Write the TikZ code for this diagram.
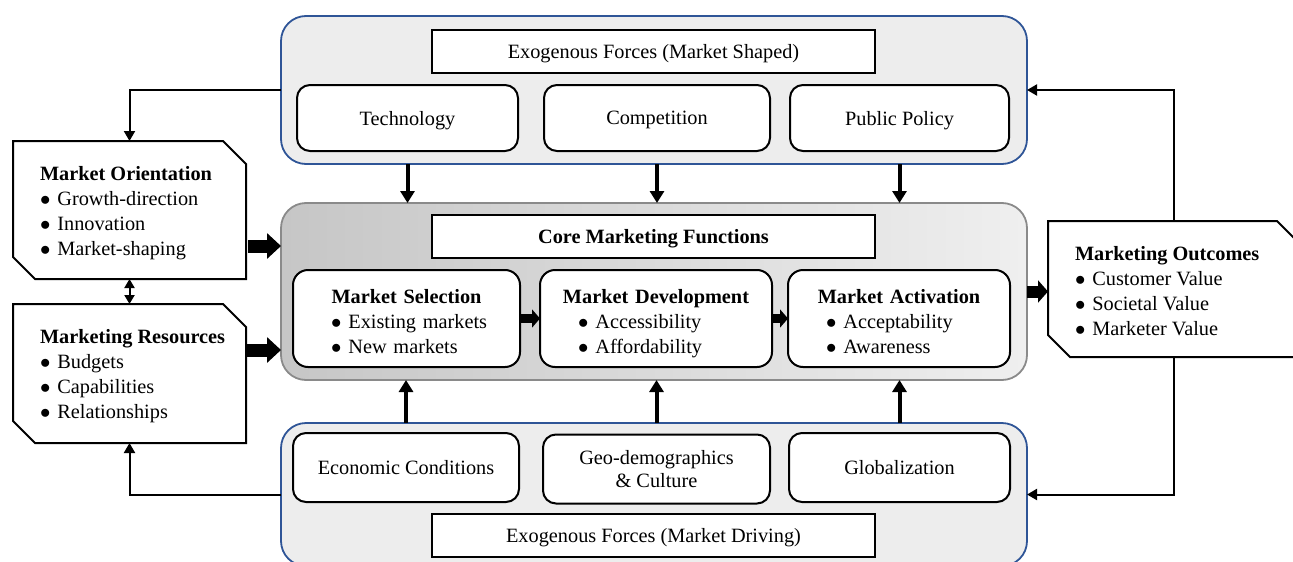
\documentclass[tikz,border=0pt]{standalone}
\usepackage{fontspec}
\setmainfont{Liberation Serif}
\usetikzlibrary{arrows.meta,calc}
\definecolor{bandfill}{HTML}{EDEDED}
\definecolor{bandline}{HTML}{2F5597}
\definecolor{coreline}{HTML}{8A8A8A}
\definecolor{coredark}{HTML}{C6C6C6}
\definecolor{corelight}{HTML}{EFEFEF}
% one bulleted line, never broken
\newcommand\bl[1]{\mbox{$\bullet$\hspace{7pt}#1}}
% heading line, centred over the box even when wider than the text column
\newcommand\ctitle[1]{\noindent\makebox[\hsize][c]{\bfseries #1}}
\newcommand\ltitle[1]{\mbox{\bfseries #1}}

\begin{document}
\begin{tikzpicture}[x=1pt,y=-1pt,
  every node/.style={font=\fontsize{20.3}{25}\selectfont, inner sep=0pt, outer sep=0pt},
  band/.style={draw=bandline, line width=1.8pt, fill=bandfill, rounded corners=25pt},
  corebox/.style={draw=coreline, line width=1.8pt, rounded corners=25pt,
    left color=coredark, right color=corelight},
  titlebox/.style={draw, line width=1.8pt, fill=white, minimum width=443pt, minimum height=43pt, text depth=0pt},
  factor/.style={draw, line width=2pt, fill=white, rounded corners=13pt, align=center, text depth=0pt},
  func/.style={draw, line width=2pt, fill=white, rounded corners=15pt, minimum height=97pt},
  functext/.style={align=left},
  sidetext/.style={align=left, anchor=west},
  sideline/.style={draw, line width=2pt, line join=miter},
  conn/.style={line width=2pt, -{Triangle[length=10pt,width=11pt]}},
  twoway/.style={line width=2pt, {Triangle[length=9pt,width=10pt]}-{Triangle[length=9pt,width=10pt]}},
  vertarrow/.style={line width=4pt, -{Triangle[length=12pt,width=14pt]}},
  bigblock/.style={line width=13pt, -{Triangle[length=14pt,width=25pt]}},
  outblock/.style={line width=12pt, -{Triangle[length=10pt,width=22pt]}},
  smallblock/.style={line width=9pt, -{Triangle[length=8pt,width=18pt]}}
]
\useasboundingbox (0,0) rectangle (1293,562);

% ---- market-shaped forces (top band)
\node[band, minimum width=746pt, minimum height=148pt] (top) at (654,90) {};
\node[titlebox] (toptitle) at (653.5,51.5) {Exogenous Forces (Market Shaped)};
\node[factor, minimum width=221pt, minimum height=66pt] (tech) at (407.5,118) {Technology};
\node[factor, minimum width=226pt, minimum height=66pt] (comp) at (657,118) {Competition};
\node[factor, minimum width=219pt, minimum height=66pt] (policy) at (899.5,118) {Public Policy};

% ---- core marketing functions
\node[corebox, minimum width=746pt, minimum height=177pt] (core) at (654,291.5) {};
\node[titlebox] (coretitle) at (653.5,236.5) {\bfseries Core Marketing Functions};
\node[func, minimum width=227pt] (sel) at (406.5,318.5) {};
\node[func, minimum width=232pt] (dev) at (656,318.5) {};
\node[func, minimum width=222pt] (act) at (899,318.5) {};
\node[functext, text width=151pt] (sel-t) at ($(sel.center)+(0,3)$)
  {\ctitle{Market Selection}\\\bl{Existing markets}\\\bl{New markets}};
\node[functext, text width=156pt] (dev-t) at ($(dev.center)+(0,5)$)
  {\ctitle{Market Development}\\\bl{Accessibility}\\\bl{Affordability}};
\node[functext, text width=146pt] (act-t) at ($(act.center)+(0,3)$)
  {\ctitle{Market Activation}\\\bl{Acceptability}\\\bl{Awareness}};

% ---- market-driving forces (bottom band)
\node[band, minimum width=746pt, minimum height=143pt] (bot) at (654,494.5) {};
\node[factor, minimum width=226pt, minimum height=69pt] (econ) at (406,467.5) {Economic Conditions};
\node[factor, minimum width=227pt, minimum height=69pt, font=\fontsize{20.3}{23.5}\selectfont] (geo) at (656.5,469) {Geo-demographics\\\& Culture};
\node[factor, minimum width=221pt, minimum height=69pt] (glob) at (899.5,467.5) {Globalization};
\node[titlebox] (bottitle) at (653.5,535.5) {Exogenous Forces (Market Driving)};

% ---- side boxes: frame nodes, then their text
\node[minimum width=233pt, minimum height=138pt] (mo) at (129.5,210) {};
\node[minimum width=233pt, minimum height=139pt] (mr) at (129.5,373.5) {};
\node[minimum width=252pt, minimum height=136pt] (outc) at (1174,289) {};
\node[sidetext] (mo-t) at ($(mo.west)+(27,3)$)
  {\ltitle{Market Orientation}\\\bl{Growth-direction}\\\bl{Innovation}\\\bl{Market-shaping}};
\node[sidetext] (mr-t) at ($(mr.west)+(27,3)$)
  {\ltitle{Marketing Resources}\\\bl{Budgets}\\\bl{Capabilities}\\\bl{Relationships}};
\node[sidetext] (outc-t) at ($(outc.west)+(27,2)$)
  {\ltitle{Marketing Outcomes}\\\bl{Customer Value}\\\bl{Societal Value}\\\bl{Marketer Value}};

% chamfered outlines: top-right and bottom-left corners cut off
\foreach \b in {mo,mr,outc}{
  \draw[sideline] (\b.north west) -- ($(\b.north east)+(-23,0)$) -- ($(\b.north east)+(0,23)$)
    -- (\b.south east) -- ($(\b.south west)+(22,0)$) -- ($(\b.south west)+(0,-22)$) -- cycle;
}

% ---- connectors
\draw[conn] (top.west) -| (mo.north);
\draw[conn] (bot.west) -| (mr.south);
\draw[twoway] (mo.south) -- (mr.north);
\draw[conn] (outc.north) |- (top.east);
\draw[conn] (outc.south) |- (bot.east);

\draw[bigblock] ($(mo.south east)+(2,-33)$) -- ($(core.west |- mo.south)+(0,-33)$);
\draw[bigblock] ($(mr.north east)+(0,46)$) -- ($(core.west |- mr.north)+(0,46)$);
\draw[outblock] (core.east) -- (outc.west |- core.east);
\draw[smallblock] (sel.east) -- (dev.west);
\draw[smallblock] (dev.east) -- (act.west);

\foreach \f/\g in {tech/econ, comp/geo, policy/glob}{
  \draw[vertarrow] (\f.south |- top.south) -- (\f.south |- core.north);
  \draw[vertarrow] (\g.north |- bot.north) -- (\g.north |- core.south);
}
\end{tikzpicture}
\end{document}
